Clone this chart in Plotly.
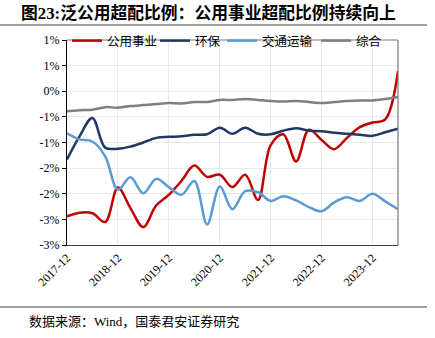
import plotly.graph_objects as go

# Quarterly observation dates (2017-12 .. 2024-06)
quarters = [f"{y}-{m:02d}-01" for y in range(2017, 2025) for m in (3, 6, 9, 12)]
quarters = [q for q in quarters if "2017-12-01" <= q <= "2024-06-01"]

# Overweight ratio by sector, %
utilities = [-2.44, -2.37, -2.38, -2.55, -1.88, -2.28, -2.65, -2.23, -2.02, -1.75,
             -1.45, -1.67, -1.63, -1.87, -1.63, -2.12, -1.05, -0.84, -1.37, -0.75,
             -0.95, -1.13, -0.91, -0.70, -0.61, -0.55, 0.39]
environment = [-1.33, -0.88, -0.52, -1.10, -1.12, -1.08, -1.00, -0.91, -0.89, -0.88,
               -0.85, -0.84, -0.71, -0.83, -0.71, -0.83, -0.84, -0.77, -0.72, -0.77,
               -0.78, -0.81, -0.83, -0.85, -0.87, -0.80, -0.73]
transport = [-0.82, -0.94, -0.98, -1.27, -1.92, -1.68, -1.99, -1.71, -1.87, -2.02,
             -1.75, -2.60, -1.86, -2.30, -1.95, -1.97, -2.14, -2.05, -2.13, -2.26,
             -2.34, -2.17, -2.07, -2.14, -2.00, -2.15, -2.30]
composite = [-0.39, -0.37, -0.36, -0.31, -0.32, -0.29, -0.27, -0.25, -0.23, -0.24,
             -0.21, -0.21, -0.17, -0.17, -0.15, -0.17, -0.19, -0.20, -0.19, -0.21,
             -0.23, -0.21, -0.19, -0.18, -0.18, -0.15, -0.11]

series_names = ["公用事业", "环保", "交通运输", "综合"]
series_values = [utilities, environment, transport, composite]
series_colors = ["#C00000", "#1F3864", "#5B9BD5", "#7F7F7F"]

x_tick_vals = [f"{y}-12-01" for y in range(2017, 2024)]
x_tick_labels = [f"{y}-12" for y in range(2017, 2024)]
y_tick_vals = [-3, -2.5, -2, -1.5, -1, -0.5, 0, 0.5, 1]
y_tick_labels = ["-3%", "-3%", "-2%", "-2%", "-1%", "-1%", "0%", "1%", "1%"]

W, H = 435, 338
ML, MR, MT, MB = 67, 37, 40, 93
PW, PH = W - ML - MR, H - MT - MB


def px_x(px):
    return (px - ML) / PW


def px_y(py):
    return (H - MB - py) / PH


serif = "Liberation Serif, Noto Sans CJK SC"
cjk = "Liberation Serif, Noto Sans CJK SC"

# left edge (px) of each legend entry box
legend_starts = [66, 155, 222, 316]
legend_ids = ["legend", "legend2", "legend3", "legend4"]

fig = go.Figure()
for name, vals, color, lid in zip(series_names, series_values, series_colors, legend_ids):
    fig.add_trace(go.Scatter(
        x=quarters, y=vals, name=name, mode="lines", legend=lid,
        line=dict(color=color, width=2.5, shape="spline", smoothing=1),
    ))

legend_layouts = {}
for lid, start in zip(legend_ids, legend_starts):
    legend_layouts[lid] = dict(
        orientation="h", x=max(px_x(start), 0), xanchor="left",
        y=px_y(41), yanchor="middle",
        font=dict(family=cjk, size=12.5, color="black"),
        bgcolor="rgba(0,0,0,0)", itemwidth=30, borderwidth=0,
    )

fig.update_layout(
    width=W, height=H,
    margin=dict(l=ML, r=MR, t=MT, b=MB),
    paper_bgcolor="white", plot_bgcolor="white",
    showlegend=True,
    title=dict(
        text="<b>图23:泛公用超配比例：公用事业超配比例持续向上</b>",
        font=dict(family=serif, size=16.8, color="black"),
        xref="container", yref="container",
        x=21 / W, xanchor="left", y=1 - 13 / H, yanchor="middle",
    ),
    **legend_layouts,
    xaxis=dict(
        type="date", range=[quarters[0], quarters[-1]],
        tickvals=x_tick_vals, ticktext=x_tick_labels, tickangle=-45,
        tickfont=dict(family=serif, size=12, color="black"),
        showgrid=True, gridcolor="#e8e8e8", gridwidth=1,
        showline=True, linecolor="#404040", linewidth=1.2,
        ticks="", zeroline=False,
    ),
    xaxis2=dict(
        type="date", overlaying="x", anchor="free", position=0.75,
        range=[quarters[0], quarters[-1]], tickvals=x_tick_vals,
        showticklabels=False, ticks="outside", ticklen=4, tickwidth=1,
        tickcolor="#404040", showline=True, linecolor="#404040", linewidth=1.2,
        showgrid=False, zeroline=False,
    ),
    yaxis=dict(
        range=[-3, 1], tickvals=y_tick_vals, ticktext=y_tick_labels,
        tickfont=dict(family=serif, size=12, color="black"),
        ticks="outside", ticklen=4, tickcolor="black",
        showgrid=True, gridcolor="#e8e8e8", gridwidth=1,
        showline=True, linecolor="black", linewidth=1.2,
        zeroline=False,
    ),
    shapes=[
        # top and right edges of the plot frame
        dict(type="line", xref="paper", yref="paper", x0=0, x1=1, y0=1, y1=1,
             line=dict(color="#7a7a7a", width=1.2)),
        dict(type="line", xref="paper", yref="paper", x0=1, x1=1, y0=0, y1=1,
             line=dict(color="#7a7a7a", width=1.2)),
        # rules under the title and above the source note
        dict(type="line", xref="paper", yref="paper",
             x0=px_x(0), x1=px_x(427), y0=px_y(25), y1=px_y(25),
             line=dict(color="#7f7f7f", width=1.5)),
        dict(type="line", xref="paper", yref="paper",
             x0=px_x(0), x1=px_x(427), y0=px_y(307), y1=px_y(307),
             line=dict(color="#7f7f7f", width=1.5)),
    ],
    annotations=[
        dict(text="数据来源：Wind，国泰君安证券研究", xref="paper", yref="paper",
             x=px_x(27), y=px_y(321), xanchor="left", yanchor="middle",
             showarrow=False, font=dict(family=cjk, size=13, color="black")),
    ],
)

fig.write_html("out.html")
